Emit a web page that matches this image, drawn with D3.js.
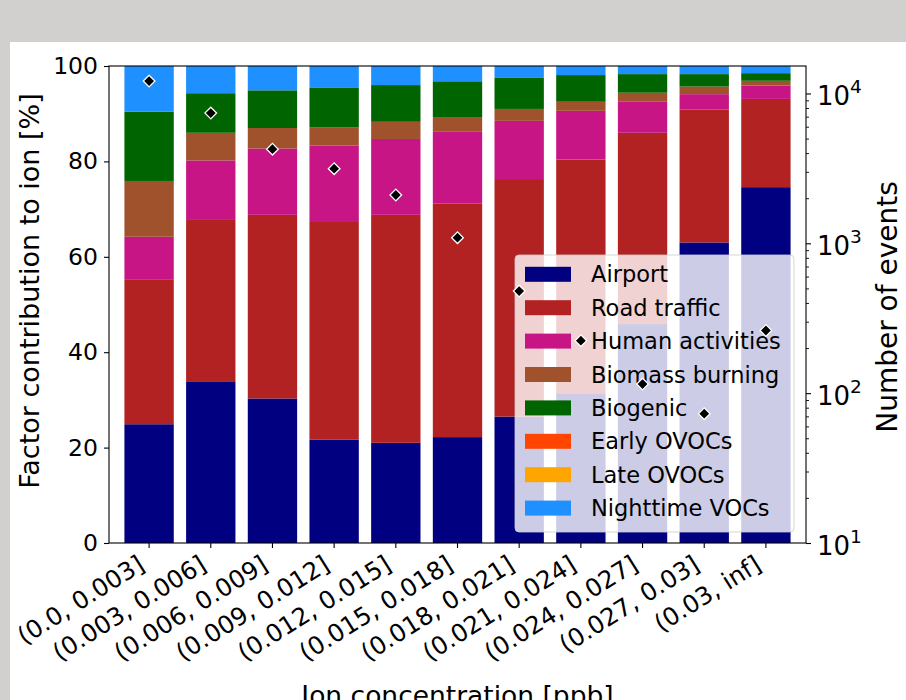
<!DOCTYPE html>
<html>
<head>
<meta charset="utf-8">
<script src="https://cdn.jsdelivr.net/npm/d3@7"></script>
<style>
  body { margin: 0; background: #d1d0ce; }
  svg { display: block; font-family: "DejaVu Sans", sans-serif; }
</style>
</head>
<body>
<svg id="chart" width="906" height="700"></svg>
<script>
// Concentration bins of the ion
const categories = ["(0.0, 0.003]", "(0.003, 0.006]", "(0.006, 0.009]", "(0.009, 0.012]",
  "(0.012, 0.015]", "(0.015, 0.018]", "(0.018, 0.021]", "(0.021, 0.024]",
  "(0.024, 0.027]", "(0.027, 0.03]", "(0.03, inf]"];

// Factor contributions to the ion per bin [%]
const airport    = [24.9, 33.9, 30.3, 21.7, 21.0, 22.2, 26.5, 31.4, 45.9, 63.0, 74.6];
const roadTraffic = [30.4, 34.0, 38.5, 45.6, 47.8, 49.0, 49.8, 49.0, 40.1, 27.9, 18.5];
const humanActivities = [8.9, 12.3, 13.9, 16.0, 15.9, 15.0, 12.2, 10.2, 6.5, 3.2, 2.8];
const biomassBurning = [11.7, 5.8, 4.3, 3.8, 3.6, 3.1, 2.5, 1.9, 1.9, 1.6, 1.0];
const biogenic   = [14.5, 8.3, 7.9, 8.3, 7.7, 7.5, 6.5, 5.6, 3.9, 2.6, 1.6];
const earlyOVOCs = [0, 0, 0, 0, 0, 0, 0, 0, 0, 0, 0];
const lateOVOCs  = [0, 0, 0, 0, 0, 0, 0, 0, 0, 0, 0];
const nighttimeVOCs = [9.6, 5.7, 5.1, 4.6, 4.0, 3.2, 2.5, 1.9, 1.7, 1.7, 1.5];

// Number of events per bin
const events = [12100, 7400, 4250, 3150, 2100, 1090, 480, 224, 115, 73, 262];

const seriesNames = ["Airport", "Road traffic", "Human activities", "Biomass burning",
  "Biogenic", "Early OVOCs", "Late OVOCs", "Nighttime VOCs"];
const seriesColors = ["#000080", "#b22222", "#c71585", "#a0522d",
  "#006400", "#ff4500", "#ffa500", "#1e90ff"];

const percentTicks = [0, 20, 40, 60, 80, 100];
const eventTicks = [10, 100, 1000, 10000];
const eventMinorTicks = [20, 30, 40, 50, 60, 70, 80, 90, 200, 300, 400, 500, 600, 700, 800, 900,
  2000, 3000, 4000, 5000, 6000, 7000, 8000, 9000];

const seriesValues = [airport, roadTraffic, humanActivities, biomassBurning,
  biogenic, earlyOVOCs, lateOVOCs, nighttimeVOCs];
const rows = categories.map((c, i) => {
  const r = { category: c, events: events[i] };
  seriesNames.forEach((n, k) => { r[n] = seriesValues[k][i]; });
  return r;
});

const W = 906, H = 700;
const plot = { left: 109, right: 806, top: 66, bottom: 543 };
const tickFont = 23.5, legendFont = 22.5, labelFont = 27;

const svg = d3.select("#chart");
svg.append("rect").attr("width", W).attr("height", H).attr("fill", "#d1d0ce");
svg.append("rect").attr("x", 10).attr("y", 42).attr("width", W - 10).attr("height", H - 42).attr("fill", "#ffffff");

const x = d3.scaleBand().domain(categories).range([plot.left, plot.right])
  .paddingInner(0.2).paddingOuter(0.25);
const y = d3.scaleLinear().domain([0, 100]).range([plot.bottom, plot.top]);
const y2 = d3.scaleLog().domain([10, 15250]).range([plot.bottom, plot.top]);
const color = d3.scaleOrdinal().domain(seriesNames).range(seriesColors);

// Stacked bars
const stacked = d3.stack().keys(seriesNames)(rows);
svg.append("g").selectAll("g").data(stacked).join("g")
  .attr("fill", d => color(d.key))
  .selectAll("rect").data(d => d).join("rect")
  .attr("x", d => x(d.data.category))
  .attr("width", x.bandwidth())
  .attr("y", d => y(d[1]))
  .attr("height", d => Math.max(0, y(d[0]) - y(d[1])));

// Legend (lower right, translucent)
const leg = svg.append("g");
const legX = 515, legY = 255, legW = 279, legH = 277, rowH = 33.4;
leg.append("rect").attr("x", legX).attr("y", legY).attr("width", legW).attr("height", legH)
  .attr("rx", 4).attr("fill", "#ffffff").attr("fill-opacity", 0.8)
  .attr("stroke", "#cccccc").attr("stroke-opacity", 0.8).attr("stroke-width", 1);
const items = leg.selectAll("g.item").data(seriesNames).join("g")
  .attr("transform", (d, i) => `translate(${legX + 10},${legY + 19.3 + i * rowH})`);
items.append("rect").attr("x", 0).attr("y", -7.5).attr("width", 46).attr("height", 15)
  .attr("fill", d => color(d));
items.append("text").attr("x", 66).attr("y", 0).attr("dy", "0.36em")
  .attr("font-size", legendFont).attr("fill", "#000").text(d => d);

// Number of events (diamonds, secondary axis)
svg.append("g").selectAll("path").data(rows).join("path")
  .attr("transform", d => `translate(${x(d.category) + x.bandwidth() / 2},${y2(d.events)}) rotate(45)`)
  .attr("d", d3.symbol(d3.symbolSquare, 68)())
  .attr("fill", "#000").attr("stroke", "#fff").attr("stroke-width", 1.3);

// Axes
const axisColor = "#000";
const gl = svg.append("g").attr("transform", `translate(${plot.left},0)`)
  .call(d3.axisLeft(y).tickValues(percentTicks).tickSize(5).tickPadding(6).tickSizeOuter(0));
gl.select(".domain").remove();
gl.selectAll("text").attr("font-size", tickFont).attr("font-family", "DejaVu Sans").attr("fill", "#000");
gl.selectAll("line").attr("stroke", axisColor).attr("stroke-width", 1.1);

const gb = svg.append("g").attr("transform", `translate(0,${plot.bottom})`)
  .call(d3.axisBottom(x).tickSize(5).tickSizeOuter(0).tickFormat(() => ""));
gb.select(".domain").remove();
gb.selectAll("line").attr("stroke", axisColor).attr("stroke-width", 1.1);
gb.selectAll(".tick").append("text")
  .attr("text-anchor", "end")
  .attr("font-size", 24.5).attr("font-family", "DejaVu Sans").attr("fill", "#000")
  .attr("transform", "translate(-3,26) rotate(-32)")
  .text(d => d);

const gr = svg.append("g").attr("transform", `translate(${plot.right},0)`)
  .call(d3.axisRight(y2).tickValues(eventTicks).tickSize(5).tickPadding(5).tickSizeOuter(0)
    .tickFormat(() => ""));
gr.select(".domain").remove();
gr.selectAll("line").attr("stroke", axisColor).attr("stroke-width", 1.1);
gr.selectAll(".tick text").remove();
gr.selectAll(".tick").append("text")
  .attr("x", 11).attr("y", 11)
  .attr("font-size", 26).attr("font-family", "DejaVu Sans").attr("fill", "#000")
  .each(function (d) {
    const t = d3.select(this);
    t.append("tspan").text("10");
    t.append("tspan").attr("font-size", 18.5).attr("dy", -12).text(Math.round(Math.log10(d)));
  });
const grm = svg.append("g").attr("transform", `translate(${plot.right},0)`)
  .call(d3.axisRight(y2).tickValues(eventMinorTicks).tickSize(3).tickSizeOuter(0).tickFormat(() => ""));
grm.select(".domain").remove();
grm.selectAll("line").attr("stroke", axisColor).attr("stroke-width", 0.9);

// Frame
svg.append("rect").attr("x", plot.left).attr("y", plot.top)
  .attr("width", plot.right - plot.left).attr("height", plot.bottom - plot.top)
  .attr("fill", "none").attr("stroke", "#000").attr("stroke-width", 1.1);

// Axis titles
svg.append("text").attr("transform", "translate(39,291) rotate(-90)")
  .attr("text-anchor", "middle").attr("font-size", labelFont).attr("fill", "#000")
  .text("Factor contribution to ion [%]");
svg.append("text").attr("transform", "translate(897,307) rotate(-90)")
  .attr("text-anchor", "middle").attr("font-size", 28).attr("fill", "#000")
  .text("Number of events");
svg.append("text").attr("x", (plot.left + plot.right) / 2).attr("y", 705)
  .attr("text-anchor", "middle").attr("font-size", 26.5).attr("fill", "#000")
  .text("Ion concentration [ppb]");
</script>
</body>
</html>
